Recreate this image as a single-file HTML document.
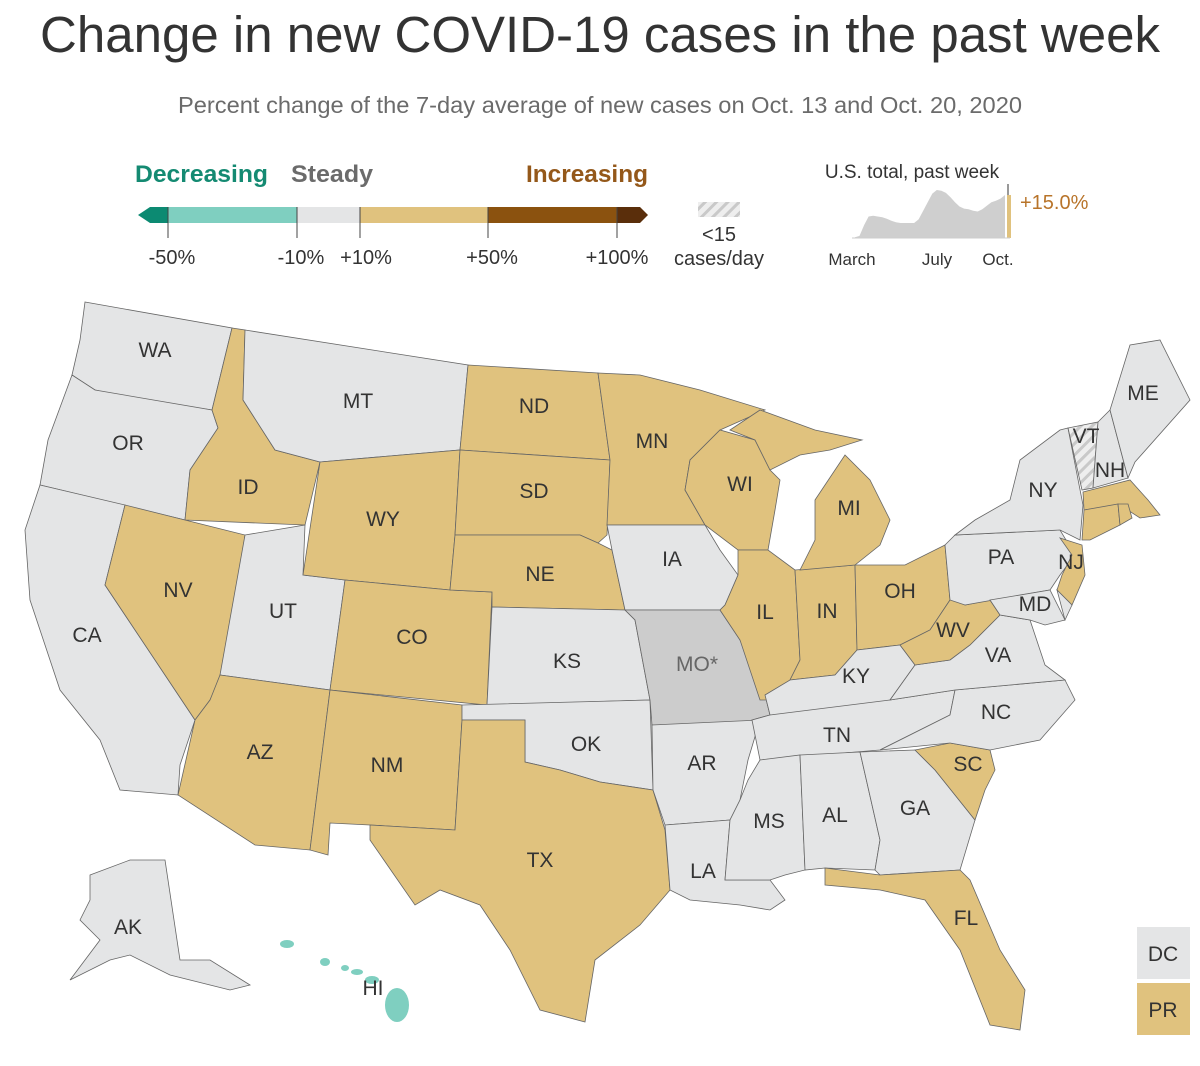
<!DOCTYPE html>
<html><head><meta charset="utf-8"><style>
body{margin:0;background:#fff;width:1200px;height:1066px;overflow:hidden;font-family:"Liberation Sans",sans-serif}
svg{display:block}
</style></head><body>
<svg width="1200" height="1066" viewBox="0 0 1200 1066">
<defs><pattern id="hatch" width="8" height="8" patternUnits="userSpaceOnUse" patternTransform="rotate(45)"><rect width="8" height="8" fill="#eee"/><rect width="3" height="8" fill="#c9c9c9"/></pattern></defs>
<text x="600" y="52" text-anchor="middle" font-size="51" fill="#333" textLength="1120" lengthAdjust="spacingAndGlyphs">Change in new COVID-19 cases in the past week</text>
<text x="600" y="113" text-anchor="middle" font-size="23" fill="#6b6b6b" textLength="844" lengthAdjust="spacingAndGlyphs">Percent change of the 7-day average of new cases on Oct. 13 and Oct. 20, 2020</text>
<g>
<text x="135" y="182" font-size="24" font-weight="bold" fill="#148a72" textLength="133" lengthAdjust="spacingAndGlyphs">Decreasing</text>
<text x="291" y="182" font-size="24" font-weight="bold" fill="#6b6b6b" textLength="82" lengthAdjust="spacingAndGlyphs">Steady</text>
<text x="526" y="182" font-size="24" font-weight="bold" fill="#94581a" textLength="122" lengthAdjust="spacingAndGlyphs">Increasing</text>
<polygon points="138,215 150,207 168,207 168,223 150,223" fill="#0c8a72"/>
<rect x="168" y="207" width="129" height="16" fill="#7fcfc0"/>
<rect x="297" y="207" width="63" height="16" fill="#e4e5e6"/>
<rect x="360" y="207" width="128" height="16" fill="#e0c27e"/>
<rect x="488" y="207" width="129" height="16" fill="#8b520f"/>
<polygon points="617,207 640,207 648,215 640,223 617,223" fill="#5a2e0b"/>
<g stroke="#444" stroke-width="1"><line x1="168" y1="207" x2="168" y2="238"/><line x1="297" y1="207" x2="297" y2="238"/><line x1="360" y1="207" x2="360" y2="238"/><line x1="488" y1="207" x2="488" y2="238"/><line x1="617" y1="207" x2="617" y2="238"/></g>
<g font-size="20" fill="#333" text-anchor="middle"><text x="172" y="264">-50%</text><text x="301" y="264">-10%</text><text x="366" y="264">+10%</text><text x="492" y="264">+50%</text><text x="617" y="264">+100%</text></g>
<rect x="698" y="202" width="42" height="15" fill="url(#hatch)"/>
<text x="719" y="241" text-anchor="middle" font-size="20" fill="#333">&lt;15</text>
<text x="719" y="265" text-anchor="middle" font-size="20" fill="#333">cases/day</text>
</g>
<g id="spark">
<text x="912" y="178" text-anchor="middle" font-size="19" fill="#333">U.S. total, past week</text>
<line x1="1008" y1="184" x2="1008" y2="200" stroke="#333"/>
<text x="1020" y="209" font-size="20" fill="#b8742a">+15.0%</text>
<g font-size="17" fill="#333" text-anchor="middle"><text x="852" y="265">March</text><text x="937" y="265">July</text><text x="998" y="265">Oct.</text></g>
</g>
<g id="map"></g>
<g id="labels" font-size="21" fill="#333" text-anchor="middle"></g>
</svg>
<script>
const NS="http://www.w3.org/2000/svg";
// sparkline data: weekly 7-day avg cases (thousands), Mar..Oct
const sparkValues=[1,3,18,30,31,30,29,27,24,22,21,21,21,21,26,38,50,62,67,66,63,57,50,44,41,40,38,37,40,45,50,52,55,60];
const sparkChange=15.0;
const spark=document.getElementById('spark');
(function(){
  const x0=855,x1=1005,yb=238,yt=190,max=Math.max(...sparkValues);
  const xs=i=>x0+(x1-x0)*i/(sparkValues.length-1), ys=v=>yb-(yb-yt)*v/max;
  let d=`M${x0},${yb}`;sparkValues.forEach((v,i)=>d+=`L${xs(i).toFixed(1)},${ys(v).toFixed(1)}`);d+=`L${x1},${yb}Z`;
  const p=document.createElementNS(NS,'path');p.setAttribute('d',d);p.setAttribute('fill','#cfcfcf');
  
  
  spark.appendChild(p);
  const b=document.createElementNS(NS,'rect');b.setAttribute('x',1007);const h=(yb-yt)*sparkValues[sparkValues.length-1]/max*(1+sparkChange/100)/(1.15);
  b.setAttribute('y',yb-h);b.setAttribute('width',4);b.setAttribute('height',h);b.setAttribute('fill','#e0c27e');
  
  
  spark.appendChild(b);
  const a=document.createElementNS(NS,'line');a.setAttribute('x1',852);a.setAttribute('x2',1010);a.setAttribute('y1',yb);a.setAttribute('y2',yb);a.setAttribute('stroke','#ccc');spark.appendChild(a);
})();
// state categories: d=decreasing, s=steady, i=increasing, m=missing, l=low
const stateNames=["WA","OR","CA","ID","MT","NV","UT","WY","CO","AZ","NM","ND","SD","NE","KS","OK","TX","MN","IA","MO","AR","LA","WI","IL","IN","MI","MIU","OH","KY","TN","MS","AL","GA","FL","SC","NC","VA","WV","PA","NY","NJ","MD","DE","VT","NH","ME","MA","CT","RI","AK"];
const stateCats=["s","s","s","i","s","i","s","i","i","i","i","i","i","i","s","s","i","i","s","m","s","s","i","i","i","i","i","i","s","s","s","s","s","i","i","s","s","i","s","s","i","s","s","l","s","s","i","i","i","s"];
const colors={d:"#7fcfc0",s:"#e4e5e6",i:"#e0c27e",m:"#cccccc",l:"url(#hatch)"};
const shapes={
WA:[[85,302],[232,328],[212,410],[140,400],[95,390],[72,375],[80,340]],
OR:[[72,375],[95,390],[212,410],[218,428],[190,470],[185,520],[40,485],[48,440]],
CA:[[40,485],[125,505],[105,585],[195,720],[180,765],[178,795],[120,790],[100,740],[60,690],[30,600],[25,530]],
ID:[[232,328],[245,330],[243,400],[275,450],[320,462],[305,525],[185,520],[190,470],[218,428],[212,410]],
MT:[[245,330],[468,365],[460,450],[320,462],[275,450],[243,400]],
NV:[[125,505],[245,535],[225,690],[215,690],[210,700],[195,720],[105,585]],
UT:[[245,535],[305,525],[303,575],[345,580],[330,690],[220,675]],
WY:[[320,462],[460,450],[455,535],[450,590],[345,580],[303,575]],
CO:[[345,580],[450,590],[492,592],[487,705],[330,690]],
AZ:[[220,675],[330,690],[310,850],[255,845],[178,795],[195,720],[210,700]],
NM:[[330,690],[462,705],[462,720],[455,830],[370,825],[330,823],[328,855],[310,850]],
ND:[[468,365],[598,373],[610,460],[460,450]],
SD:[[460,450],[610,460],[607,535],[598,543],[580,535],[455,535]],
NE:[[455,535],[580,535],[598,543],[612,550],[625,610],[492,607],[492,592],[450,590]],
KS:[[492,607],[625,610],[635,620],[650,700],[487,705]],
OK:[[462,705],[650,700],[653,790],[600,782],[560,770],[525,762],[525,720],[462,720]],
TX:[[462,720],[525,720],[525,762],[560,770],[600,782],[653,790],[665,830],[670,890],[640,925],[595,960],[585,1022],[540,1010],[510,950],[480,905],[440,890],[415,905],[370,840],[370,825],[455,830]],
MN:[[598,373],[640,375],[700,390],[765,410],[720,430],[690,460],[685,490],[705,525],[607,525],[610,460]],
IA:[[607,525],[705,525],[720,550],[738,575],[725,605],[720,610],[625,610],[612,550]],
MO:[[625,610],[720,610],[740,640],[765,695],[770,715],[752,720],[740,725],[652,725],[650,700],[635,620]],
AR:[[652,725],[760,720],[748,760],[740,800],[730,820],[665,825],[653,790]],
LA:[[665,825],[730,820],[725,880],[770,880],[785,900],[770,910],[740,905],[690,900],[670,890]],
WI:[[690,460],[720,430],[755,440],[770,470],[780,480],[775,510],[768,550],[738,550],[705,525],[685,490]],
IL:[[738,550],[768,550],[795,570],[800,660],[790,680],[770,700],[760,700],[740,640],[720,610],[725,605],[738,575]],
IN:[[795,570],[855,565],[857,650],[835,675],[790,680],[800,660]],
MI:[[815,500],[845,455],[870,480],[890,520],[880,545],[855,565],[800,570],[815,540]],
MIU:[[730,430],[760,410],[815,430],[862,440],[830,450],[800,455],[770,470],[755,440]],
OH:[[855,565],[905,565],[945,545],[950,600],[930,630],[900,645],[857,650]],
KY:[[790,680],[835,675],[857,650],[900,645],[915,665],[890,700],[860,710],[770,715],[765,695]],
TN:[[770,715],[890,700],[955,690],[950,715],[880,750],[760,760],[752,720]],
MS:[[760,760],[800,755],[805,870],[785,875],[770,880],[725,880],[730,820],[740,800],[748,780]],
AL:[[800,755],[860,752],[880,840],[875,870],[825,868],[805,870]],
GA:[[860,752],[915,750],[935,770],[975,820],[960,870],[880,875],[875,870],[880,840]],
FL:[[825,868],[880,875],[960,870],[970,880],[1000,950],[1025,990],[1020,1030],[990,1025],[960,950],[925,900],[880,890],[825,885]],
SC:[[915,750],[950,743],[990,750],[995,770],[985,790],[975,820],[935,770]],
NC:[[955,690],[1065,680],[1075,700],[1040,740],[990,750],[950,743],[880,750],[950,715]],
VA:[[890,700],[915,665],[950,660],[970,645],[1000,615],[1030,620],[1045,665],[1065,680],[955,690]],
WV:[[900,645],[930,630],[950,600],[950,575],[965,605],[990,600],[1000,615],[970,645],[950,660],[915,665]],
PA:[[945,545],[955,535],[1060,530],[1075,555],[1060,575],[1050,590],[965,605],[950,600]],
NY:[[955,535],[975,520],[1010,500],[1020,460],[1060,430],[1068,428],[1083,505],[1080,540],[1060,530]],
NJ:[[1060,538],[1082,545],[1085,575],[1072,605],[1057,590],[1062,575],[1072,555]],
MD:[[990,600],[1050,590],[1065,620],[1045,625],[1030,620],[1000,615]],
DE:[[1057,590],[1072,605],[1065,620]],
VT:[[1068,428],[1098,422],[1093,488],[1082,490]],
NH:[[1098,422],[1110,410],[1128,478],[1093,488]],
ME:[[1110,410],[1130,345],[1160,340],[1190,400],[1135,462],[1128,478]],
MA:[[1083,492],[1130,480],[1148,500],[1160,515],[1140,518],[1120,505],[1084,510]],
CT:[[1084,510],[1118,504],[1120,525],[1090,540],[1082,540]],
RI:[[1118,504],[1128,504],[1132,518],[1120,525]],
AK:[[90,875],[130,860],[165,860],[180,960],[210,960],[250,985],[230,990],[170,975],[130,955],[110,960],[70,980],[100,940],[80,920],[90,900]]
};
const labelPos={WA:[155,357],OR:[128,450],CA:[87,642],ID:[248,494],MT:[358,408],NV:[178,597],UT:[283,618],WY:[383,526],CO:[412,644],AZ:[260,759],NM:[387,772],ND:[534,413],SD:[534,498],NE:[540,581],KS:[567,668],OK:[586,751],TX:[540,867],MN:[652,448],IA:[672,566],MO:[697,671],AR:[702,770],LA:[703,878],WI:[740,491],IL:[765,619],IN:[827,618],MI:[849,515],OH:[900,598],KY:[856,683],TN:[837,742],MS:[769,828],AL:[835,822],GA:[915,815],FL:[966,925],SC:[968,771],NC:[996,719],VA:[998,662],WV:[953,637],PA:[1001,564],NY:[1043,497],NJ:[1071,569],MD:[1035,611],VT:[1086,443],NH:[1110,477],ME:[1143,400],AK:[128,934]};
const map=document.getElementById('map'),labels=document.getElementById('labels');
stateNames.forEach((s,i)=>{
  const p=document.createElementNS(NS,'polygon');
  p.setAttribute('points',shapes[s].map(q=>q.join(',')).join(' '));
  p.setAttribute('fill',colors[stateCats[i]]);p.setAttribute('stroke','#666');p.setAttribute('stroke-width','0.8');
  
  
  map.appendChild(p);
  if(labelPos[s]){const t=document.createElementNS(NS,'text');t.setAttribute('x',labelPos[s][0]);t.setAttribute('y',labelPos[s][1]);
    t.textContent=s==='MO'?'MO*':s;if(s==='MO')t.setAttribute('fill','#666');
    
    
    labels.appendChild(t);}
});
// Hawaii (decreasing)
const hiIslands=[[287,944,7,4],[325,962,5,4],[345,968,4,3],[357,972,6,3],[372,980,7,4],[397,1005,12,17]];
hiIslands.forEach(e=>{const el=document.createElementNS(NS,'ellipse');el.setAttribute('cx',e[0]);el.setAttribute('cy',e[1]);el.setAttribute('rx',e[2]);el.setAttribute('ry',e[3]);el.setAttribute('fill','#7fcfc0');
  
  
  map.appendChild(el);});
const hiT=document.createElementNS(NS,'text');hiT.setAttribute('x',373);hiT.setAttribute('y',995);hiT.textContent='HI';labels.appendChild(hiT);
// DC and PR boxes
[["DC","s",927],["PR","i",983]].forEach(b=>{const r=document.createElementNS(NS,'rect');r.setAttribute('x',1137);r.setAttribute('y',b[2]);r.setAttribute('width',53);r.setAttribute('height',52);r.setAttribute('fill',colors[b[1]]);
  
  
  map.appendChild(r);
  const t=document.createElementNS(NS,'text');t.setAttribute('x',1163);t.setAttribute('y',b[2]+34);t.textContent=b[0];labels.appendChild(t);});
</script>
</body></html>
